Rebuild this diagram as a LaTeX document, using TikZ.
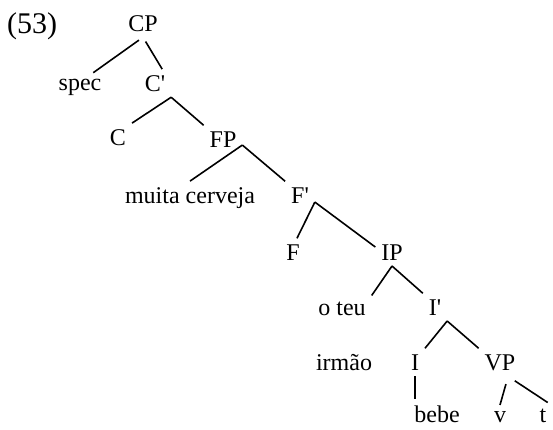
\documentclass[tikz,border=0pt]{standalone}
\usepackage{fontspec}
\setmainfont{Liberation Serif}
\usepackage{tikz}

\begin{document}
\begin{tikzpicture}[x=1pt, y=-1pt, line width=1.6pt, font=\fontsize{24}{28}\selectfont,
    main/.style = {anchor=base, inner sep=2pt, outer sep=4pt}]
			\useasboundingbox (0,0) rectangle (553,429);
			\node[main, font=\fontsize{30}{36}\selectfont] (ex) at (32,33) {(53)};
			\node[main] (cp) at (143,31) {CP};
			\node[main] (spec) at (80,90) {spec};
			\node[main] (cbar) at (155,91) {C\textquotesingle};
			\node[main] (c) at (118,145) {C};
			\node[main] (fp) at (223,147) {FP};
			\node[main] (mc) at (190,203) {muita cerveja};
			\node[main] (fbar) at (300,203) {F\textquotesingle};
			\node[main] (f) at (293,260) {F};
			\node[main] (ip) at (392,260) {IP};
			\node[main] (oteu) at (342,315) {o teu};
			\node[main] (ibar) at (435,315) {I\textquotesingle};
			\node[main] (irmao) at (344,370) {irmão};
			\node[main] (i) at (415,370) {I};
			\node[main] (vp) at (500,370) {VP};
			\node[main] (bebe) at (437,422) {bebe};
			\node[main] (v) at (500,422) {v};
			\node[main] (t) at (543,422) {t};
			
			\draw[shorten <=5pt] (cp.south) -- (spec.47);
			\draw[shorten <=5pt] (cp.south) -- (cbar.63);
			\draw (cbar.south east) -- (c.north east);
			\draw (cbar.south east) -- (fp.north west);
			\draw (fp.-17) -- (mc.north);
			\draw (fp.-17) -- (fbar.north west);
			\draw (fbar.-25) -- (f.74);
			\draw (fbar.-25) -- (ip.163);
			\draw (ip.south) -- (oteu.north east);
			\draw (ip.south) -- (ibar.north west);
			\draw (ibar.south east) -- (i.north east);
			\draw (ibar.south east) -- (vp.north west);
			\draw (i.south) -- (i.south |- bebe.north);
			\draw[shorten <=8pt] (vp.-60) -- (v.north);
			\draw[shorten <=8pt] (vp.-60) -- (t.70);
		\end{tikzpicture}
\end{document}
